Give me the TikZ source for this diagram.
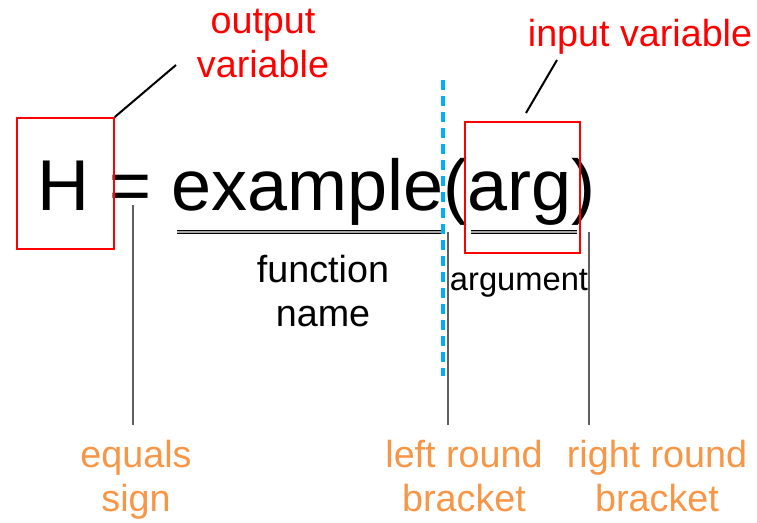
\documentclass[tikz,border=0pt]{standalone}
\usepackage{fontspec}
\setmainfont{Liberation Sans}
\definecolor{lblred}{RGB}{255,0,0}
\definecolor{lblorange}{RGB}{247,150,70}
\definecolor{dashblue}{RGB}{0,176,240}
\definecolor{leadgray}{RGB}{95,95,95}
\begin{document}
\begin{tikzpicture}[x=1pt,y=-1pt,
  lbl/.style={inner sep=0pt, align=center, font=\fontsize{37.7}{44}\selectfont},
  redlbl/.style={lbl, text=lblred},
  orangelbl/.style={lbl, text=lblorange},
  redbox/.style={draw=lblred, line width=1.8pt, inner sep=0pt, anchor=north west},
  pointer/.style={draw=black, line width=2pt},
  leader/.style={draw=leadgray, line width=1.3pt},
  ulx/.style={draw=black, line width=1.4pt, double=black!35, double distance=1.3pt},
  splitline/.style={draw=dashblue, line width=3.2pt, dash pattern=on 10pt off 6pt}]
\useasboundingbox (0,0) rectangle (757,522);
% main formula
\node[anchor=base west, inner sep=0pt, font=\fontsize{72}{86}\selectfont] (formula) at (37,210) {H = example(arg)};
% red boxes
\node[redbox, minimum width=97pt, minimum height=131pt] (boxH) at (16,117) {};
\node[redbox, minimum width=115pt, minimum height=131pt] (boxArg) at (464,121) {};
% red labels (base = last line)
\node[redlbl, anchor=base] (outv) at (263,77) {output\\variable};
\node[redlbl, anchor=base] (inv) at (640,46) {input variable};
\coordinate (outEnd) at (176,65);
\coordinate (inStart) at (526,113);
\coordinate (inEnd) at (557,60);
\draw[pointer] (boxH.north east) -- (outEnd);
\draw[pointer] (inStart) -- (inEnd);
% underlines
\coordinate (ulA1) at (177,232);
\coordinate (ulA2) at (443,232);
\coordinate (ulB1) at (471,232);
\coordinate (ulB2) at (577,232);
\draw[ulx] (ulA1) -- (ulA2);
\draw[ulx] (ulB1) -- (ulB2);
% leader lines
\coordinate (eqTop) at (133,205);
\coordinate (eqBot) at (133,425);
\coordinate (lbTop) at (448,232);
\coordinate (lbBot) at (448,425);
\coordinate (rbTop) at (589,232);
\coordinate (rbBot) at (589,425);
\draw[leader] (eqTop) -- (eqBot);
\draw[leader] (lbTop) -- (lbBot);
\draw[leader] (rbTop) -- (rbBot);
% blue dashed line
\coordinate (dashTop) at (443,80);
\coordinate (dashBot) at (443,376);
\draw[splitline] (dashTop) -- (dashBot);
% black labels
\node[lbl, anchor=base] (fname) at (323,326) {function\\name};
\node[lbl, font=\fontsize{32.7}{38}\selectfont, anchor=base] (argl) at (519,290) {argument};
% orange labels
\node[orangelbl, anchor=base] (eqs) at (136,511) {equals\\sign};
\node[orangelbl, anchor=base] (lrb) at (464,511) {left round\\bracket};
\node[orangelbl, anchor=base] (rrb) at (657,511) {right round\\bracket};
\end{tikzpicture}
\end{document}
